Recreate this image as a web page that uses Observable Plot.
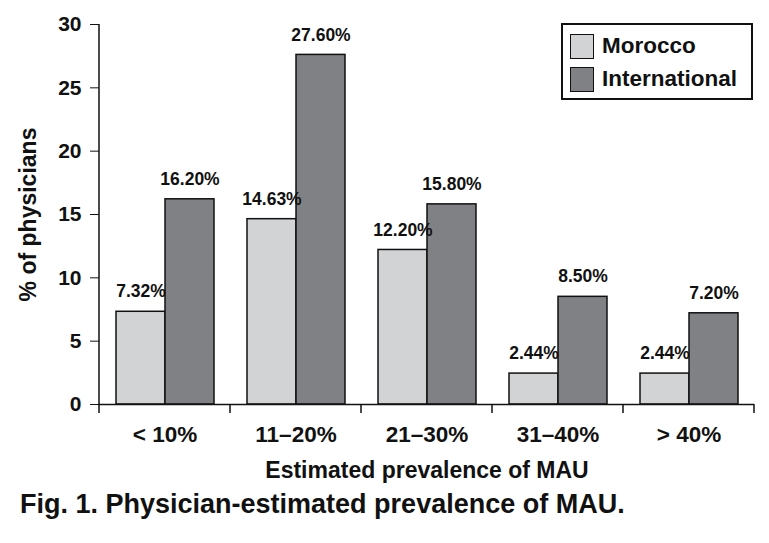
<!DOCTYPE html>
<html>
<head>
<meta charset="utf-8">
<script src="https://cdn.jsdelivr.net/npm/d3@7"></script>
<script src="https://cdn.jsdelivr.net/npm/@observablehq/plot@0.6"></script>
<style>
  html, body { margin: 0; padding: 0; background: #fff; }
  body { font-family: "Liberation Sans", Arial, Helvetica, sans-serif; }
  #wrap { position: relative; width: 769px; height: 543px; }
  #legend { position: absolute; left: 561px; top: 23px; width: 188px; height: 73px;
            border: 2px solid #111; background: #fff; }
  .item { position: absolute; left: 7px; display: flex; align-items: center; font-weight: bold;
          font-size: 22.5px; color: #111; }
  .sw { width: 22px; height: 23px; border: 1.5px solid #111; margin-right: 8px; }
  #caption { position: absolute; left: 20px; top: 489px; font-weight: bold; font-size: 27px;
             line-height: 30px; color: #111; white-space: nowrap; }
</style>
</head>
<body>
<div id="wrap">
  <div id="chart"></div>
  <div id="legend"></div>
  <div id="caption">Fig. 1. Physician-estimated prevalence of MAU.</div>
</div>
<script>
const categories = ["< 10%", "11–20%", "21–30%", "31–40%", "> 40%"];
const seriesNames = ["Morocco", "International"];
const morocco = [7.32, 14.63, 12.20, 2.44, 2.44];
const international = [16.20, 27.60, 15.80, 8.50, 7.20];
const yTicks = [0, 5, 10, 15, 20, 25, 30];
const colors = ["#d2d3d5", "#808185"];

const data = [];
categories.forEach((c, i) => {
  data.push({cat: c, series: seriesNames[0], value: morocco[i]});
  data.push({cat: c, series: seriesNames[1], value: international[i]});
});

const font = "Liberation Sans, Arial, Helvetica, sans-serif";

const chart = Plot.plot({
  width: 769,
  height: 485,
  marginTop: 24,
  marginBottom: 81,
  marginLeft: 97,
  marginRight: 13,
  style: {fontFamily: font, color: "#111", background: "white"},
  fx: {domain: categories, padding: 0, label: null},
  x: {domain: seriesNames, paddingInner: 0, paddingOuter: 0.318, axis: null},
  y: {domain: [0, 30], axis: null},
  color: {domain: seriesNames, range: colors},
  marks: [
    Plot.barY(data, {fx: "cat", x: "series", y: "value", fill: "series", stroke: "#111", strokeWidth: 1.5}),
    Plot.text(data, {fx: "cat", x: "series", y: "value", text: d => d.value.toFixed(2) + "%",
      dy: -20, fontSize: 17.5, fontWeight: "bold", fill: "#111"}),
    Plot.ruleY([0], {stroke: "#111", strokeWidth: 1.5}),
    Plot.axisY({ticks: yTicks, tickSize: 9, tickPadding: 9, fontSize: 21, fontWeight: "bold",
      label: "% of physicians", labelAnchor: "center", labelOffset: 80, labelArrow: "none"}),
    Plot.axisFx({anchor: "bottom", tickSize: 0, tickPadding: 22, fontSize: 22.5, fontWeight: "bold",
      label: "Estimated prevalence of MAU", labelAnchor: "center", labelOffset: 73})
  ]
});

// axis label sizes
const svg = d3.select(chart);
svg.selectAll('[aria-label="y-axis label"], [aria-label="y-axis label"] text')
  .attr("font-size", 23).attr("font-weight", "bold");
svg.selectAll('[aria-label="fx-axis label"], [aria-label="fx-axis label"] text')
  .attr("font-size", 23).attr("font-weight", "bold");

// y axis line and band separator ticks, positioned from the plot's own scales
const fx = chart.scale("fx");
const y = chart.scale("y");
const y0 = y.apply(0), yTop = y.apply(30);
const left = fx.apply(categories[0]);
svg.append("line").attr("x1", left).attr("x2", left).attr("y1", yTop).attr("y2", y0)
  .attr("stroke", "#111").attr("stroke-width", 1.5);
const edges = categories.map(c => fx.apply(c)).concat([fx.apply(categories[categories.length - 1]) + fx.bandwidth]);
edges.forEach(e => {
  svg.append("line").attr("x1", e).attr("x2", e).attr("y1", y0).attr("y2", y0 + 9)
    .attr("stroke", "#111").attr("stroke-width", 1.5);
});

document.getElementById("chart").appendChild(chart);

// legend
const legend = document.getElementById("legend");
seriesNames.forEach((s, i) => {
  const it = document.createElement("div");
  it.className = "item";
  it.style.top = (8 + i * 33) + "px";
  const sw = document.createElement("div");
  sw.className = "sw";
  sw.style.background = colors[i];
  it.appendChild(sw);
  it.appendChild(document.createTextNode(s));
  legend.appendChild(it);
});
</script>
</body>
</html>
